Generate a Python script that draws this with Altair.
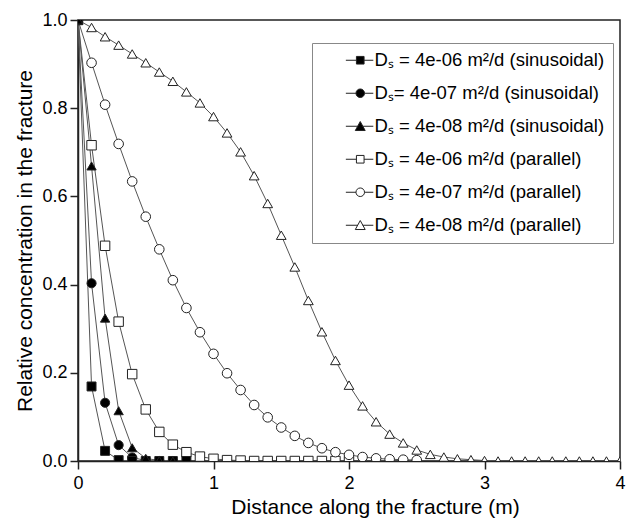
import altair as alt
import pandas as pd

series_names = [
    "Dₛ = 4e-06 m²/d (sinusoidal)",
    "Dₛ=  4e-07 m²/d (sinusoidal)",
    "Dₛ = 4e-08 m²/d (sinusoidal)",
    "Dₛ = 4e-06 m²/d (parallel)",
    "Dₛ = 4e-07 m²/d (parallel)",
    "Dₛ = 4e-08 m²/d (parallel)",
]

# concentration values read at distances 0, 0.1, 0.2, ... (m)
sin_4e06 = [1.0, 0.169, 0.023, 0.002, 0, 0, 0, 0, 0]
sin_4e07 = [1.0, 0.403, 0.132, 0.036, 0.008, 0.001, 0, 0]
sin_4e08 = [1.0, 0.669, 0.324, 0.114, 0.030, 0.006, 0.001, 0]
par_4e06 = [1.0, 0.716, 0.488, 0.316, 0.197, 0.117, 0.066, 0.037, 0.020, 0.010,
            0.005, 0.002, 0.001, 0, 0, 0, 0, 0, 0, 0, 0]
par_4e07 = [1.0, 0.903, 0.808, 0.719, 0.634, 0.554, 0.480, 0.410, 0.347, 0.292,
            0.243, 0.199, 0.161, 0.127, 0.099, 0.076, 0.057, 0.041, 0.029, 0.020,
            0.014, 0.009, 0.006, 0.004, 0.003, 0.002]
par_4e08 = [1.0, 0.983, 0.962, 0.943, 0.923, 0.903, 0.882, 0.861, 0.837, 0.812,
            0.781, 0.744, 0.701, 0.647, 0.584, 0.512, 0.440, 0.364, 0.293, 0.228,
            0.172, 0.125, 0.089, 0.061, 0.041, 0.025, 0.015, 0.009, 0.005, 0.003,
            0.001, 0, 0, 0, 0, 0, 0, 0, 0, 0, 0]
x_step = 0.1

x_ticks = [0, 1, 2, 3, 4]
y_ticks = [0.0, 0.2, 0.4, 0.6, 0.8, 1.0]

values_by_series = [sin_4e06, sin_4e07, sin_4e08, par_4e06, par_4e07, par_4e08]
# drawing order: open triangles, open squares, open circles, filled circles, filled squares, filled triangles
draw_rank = [4, 3, 5, 1, 2, 0]

rows = []
for s_idx, (name, vals) in enumerate(zip(series_names, values_by_series)):
    for i, v in enumerate(vals):
        rows.append({"series": name, "x": round(i * x_step, 1), "y": v,
                     "draw": draw_rank[s_idx] * 100 + i})
df = pd.DataFrame(rows)

FONT = "Liberation Sans"
INK = "#222222"

shapes = ["square", "circle", "triangle-up", "square", "circle", "triangle-up"]
fills = ["black", "black", "black", "white", "white", "white"]
strokes = [INK] * 6
sizes = [80, 95, 125, 80, 95, 125]

sq = "M-0.85,-0.85H0.85V0.85H-0.85Z"
ci = "M0.95,0A0.95,0.95,0,1,1,-0.95,0A0.95,0.95,0,1,1,0.95,0Z"
tr = "M0,-1.05L1.1,0.95H-1.1Z"
legend_paths = [
    "M-3.2,0H-0.85M0.85,0H2.9" + sq,
    "M-3.2,0H-0.95M0.95,0H2.9" + ci,
    "M-3.2,0H-0.55M0.55,0H2.9" + tr,
    "M-3.2,0H-0.85M0.85,0H2.9" + sq,
    "M-3.2,0H-0.95M0.95,0H2.9" + ci,
    "M-3.2,0H-0.55M0.55,0H2.9" + tr,
]

x_enc = alt.X("x:Q", scale=alt.Scale(domain=[0, 4], nice=False, zero=False),
              axis=alt.Axis(values=x_ticks, format="d", titleX=297,
                            title="Distance along the fracture (m)"))
y_enc = alt.Y("y:Q", scale=alt.Scale(domain=[0, 1], nice=False),
              axis=alt.Axis(values=y_ticks, format=".1f",
                            title="Relative concentration in the fracture"))

lines = alt.Chart(df).mark_line(color="#555555", strokeWidth=1, clip=True).encode(
    x=x_enc, y=y_enc, detail="series:N"
)

points = alt.Chart(df).mark_point(filled=False, opacity=1, stroke=INK,
                                  strokeWidth=1, clip=True).encode(
    x=x_enc, y=y_enc,
    shape=alt.Shape("series:N", scale=alt.Scale(domain=series_names, range=shapes), legend=None),
    fill=alt.Fill("series:N", scale=alt.Scale(domain=series_names, range=fills), legend=None),
    size=alt.Size("series:N", scale=alt.Scale(domain=series_names, range=sizes), legend=None),
    order=alt.Order("draw:Q"),
)

leg = alt.Legend(title=None, orient="none", legendX=234, legendY=23,
                 symbolSize=81, symbolStrokeWidth=1,
                 labelFont=FONT, labelFontSize=18.5, labelColor="black",
                 labelOffset=5, symbolOffset=31, rowPadding=14, padding=8,
                 strokeColor="#888888", fillColor="white", labelLimit=400)

legend_layer = alt.Chart(df).transform_filter("false").mark_point(
    filled=False, opacity=1, strokeWidth=1).encode(
    x=x_enc, y=y_enc,
    shape=alt.Shape("series:N", scale=alt.Scale(domain=series_names, range=legend_paths), legend=leg),
    fill=alt.Fill("series:N", scale=alt.Scale(domain=series_names, range=fills), legend=leg),
    stroke=alt.Stroke("series:N", scale=alt.Scale(domain=series_names, range=strokes), legend=leg),
)

chart = alt.layer(lines, points, legend_layer).resolve_scale(
    shape="independent", fill="independent", size="independent", stroke="independent"
).properties(
    width=542, height=441,
    autosize=alt.AutoSizeParams(type="none"),
    padding={"left": 70, "top": 12, "right": 6, "bottom": 61},
    background="white",
).configure_view(
    stroke=INK, strokeWidth=1.5
).configure_axis(
    grid=False, labelFont=FONT, titleFont=FONT, labelFontSize=18, titleFontSize=21,
    titleFontWeight="normal", labelColor="black", titleColor="black",
    domainColor=INK, domainWidth=1.5, tickColor=INK, tickWidth=1.5, tickSize=8,
    labelFlush=False, labelOverlap=False,
).configure_axisX(
    labelPadding=5, titlePadding=4
).configure_axisY(
    labelPadding=3, titlePadding=6
)

chart.save("out.html", embed_options={"renderer": "svg", "actions": False})
